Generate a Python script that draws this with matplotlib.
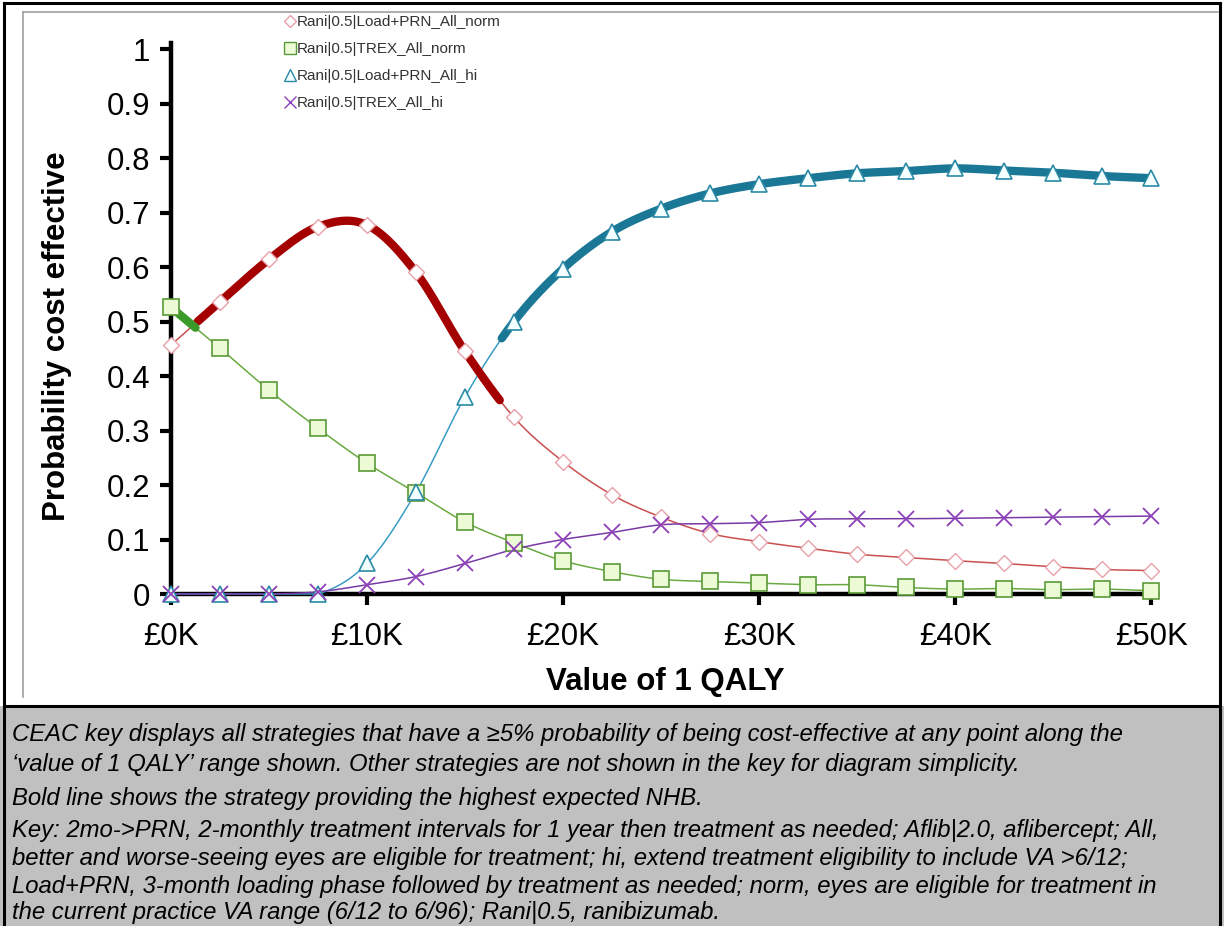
import numpy as np
import matplotlib
matplotlib.use("Agg")
import matplotlib.pyplot as plt
from matplotlib.lines import Line2D
from matplotlib.patches import Rectangle

plt.rcParams['font.family'] = ['Liberation Sans', 'DejaVu Sans']

# ---------------- data ----------------
wtp_k = [0, 2.5, 5, 7.5, 10, 12.5, 15, 17.5, 20, 22.5, 25, 27.5, 30,
         32.5, 35, 37.5, 40, 42.5, 45, 47.5, 50]
tick_vals = [0, 10, 20, 30, 40, 50]
tick_labels = ['£0K', '£10K', '£20K', '£30K', '£40K', '£50K']

series_names = ['Rani|0.5|Load+PRN_All_norm', 'Rani|0.5|TREX_All_norm',
                'Rani|0.5|Load+PRN_All_hi', 'Rani|0.5|TREX_All_hi']

load_prn_norm = [0.457, 0.536, 0.614, 0.674, 0.677, 0.590, 0.445, 0.324, 0.243,
                 0.182, 0.141, 0.111, 0.096, 0.084, 0.073, 0.067, 0.061, 0.056,
                 0.050, 0.045, 0.043]
trex_norm = [0.526, 0.451, 0.374, 0.304, 0.240, 0.186, 0.132, 0.094, 0.061,
             0.041, 0.027, 0.023, 0.020, 0.017, 0.017, 0.012, 0.009, 0.010,
             0.008, 0.009, 0.006]
load_prn_hi = [0.0, 0.0, 0.0, 0.0, 0.056, 0.187, 0.362, 0.500, 0.597, 0.665,
               0.707, 0.735, 0.752, 0.763, 0.772, 0.776, 0.781, 0.777, 0.773,
               0.767, 0.763]
trex_hi = [0.0, 0.0, 0.0, 0.004, 0.017, 0.032, 0.056, 0.082, 0.100, 0.113,
           0.127, 0.129, 0.131, 0.137, 0.138, 0.138, 0.139, 0.140, 0.141,
           0.142, 0.143]

# WTP ranges (in £K) where each strategy has the highest expected NHB (bold)
bold_ranges = {'Rani|0.5|TREX_All_norm': (0.0, 1.3),
               'Rani|0.5|Load+PRN_All_norm': (1.3, 16.8),
               'Rani|0.5|Load+PRN_All_hi': (16.8, 50.0)}

caption_lines = [
    "CEAC key displays all strategies that have a \u22655% probability of being cost-effective at any point along the",
    "\u2018value of 1 QALY\u2019 range shown. Other strategies are not shown in the key for diagram simplicity.",
    "Bold line shows the strategy providing the highest expected NHB.",
    "Key: 2mo->PRN, 2-monthly treatment intervals for 1 year then treatment as needed; Aflib|2.0, aflibercept; All,",
    "better and worse-seeing eyes are eligible for treatment; hi, extend treatment eligibility to include VA >6/12;",
    "Load+PRN, 3-month loading phase followed by treatment as needed; norm, eyes are eligible for treatment in",
    "the current practice VA range (6/12 to 6/96); Rani|0.5, ranibizumab.",
]


def smooth(x, y, n=24):
    """Catmull-Rom style smoothing (like Excel 'smoothed line')."""
    x = np.asarray(x, float)
    y = np.asarray(y, float)
    px = np.concatenate([[2 * x[0] - x[1]], x, [2 * x[-1] - x[-2]]])
    py = np.concatenate([[2 * y[0] - y[1]], y, [2 * y[-1] - y[-2]]])
    xs, ys = [], []
    t = np.linspace(0, 1, n, endpoint=False)
    for i in range(1, len(px) - 2):
        p0, p1, p2, p3 = py[i - 1], py[i], py[i + 1], py[i + 2]
        q0, q1, q2, q3 = px[i - 1], px[i], px[i + 1], px[i + 2]
        t2, t3 = t * t, t * t * t
        ys.append(0.5 * ((2 * p1) + (-p0 + p2) * t + (2 * p0 - 5 * p1 + 4 * p2 - p3) * t2 + (-p0 + 3 * p1 - 3 * p2 + p3) * t3))
        xs.append(0.5 * ((2 * q1) + (-q0 + q2) * t + (2 * q0 - 5 * q1 + 4 * q2 - q3) * t2 + (-q0 + 3 * q1 - 3 * q2 + q3) * t3))
    xs.append([x[-1]])
    ys.append([y[-1]])
    return np.concatenate(xs), np.clip(np.concatenate(ys), 0, None)


W, H = 1224, 926
fig = plt.figure(figsize=(W / 100, H / 100), dpi=100)


def fx(px):
    return px / W


def fy(py):
    return 1 - py / H

# ---------- frame / caption background ----------
fig.patches.append(Rectangle((0, 0), 1, fy(706), transform=fig.transFigure,
                             facecolor='#c0c0c0', edgecolor='none', zorder=0))
fig.add_artist(Line2D([fx(4), fx(1220)], [fy(706), fy(706)], color='black', lw=2.2, transform=fig.transFigure))
fig.add_artist(Line2D([fx(4), fx(4)], [0, fy(3)], color='black', lw=2.2, transform=fig.transFigure))
fig.add_artist(Line2D([fx(1220), fx(1220)], [0, fy(3)], color='black', lw=2.2, transform=fig.transFigure))
fig.add_artist(Line2D([fx(4), fx(1220)], [fy(3), fy(3)], color='black', lw=2.2, transform=fig.transFigure))
fig.add_artist(Line2D([fx(23), fx(23)], [fy(697), fy(12)], color='#a0a0a0', lw=1.2, transform=fig.transFigure))
fig.add_artist(Line2D([fx(23), fx(1218)], [fy(12), fy(12)], color='#a0a0a0', lw=1.2, transform=fig.transFigure))

# ---------- axes ----------
x0, x1 = 0.0, 50.3
y0, y1 = 0.0, 1.012
ax = fig.add_axes([fx(171), fy(594), (1157 - 171) / W, (594 - 42.5) / H])
ax.set_xlim(x0, x1)
ax.set_ylim(y0, y1)
ax.patch.set_alpha(0)
for s in ['top', 'right']:
    ax.spines[s].set_visible(False)
for s in ['left', 'bottom']:
    ax.spines[s].set_linewidth(3.2)
    ax.spines[s].set_color('black')
    ax.spines[s].set_zorder(1)

ax.set_xticks(tick_vals)
ax.set_xticklabels(tick_labels)
ax.set_yticks(np.round(np.arange(0, 1.01, 0.1), 1))
ax.set_yticklabels(['0'] + ['%.1f' % v for v in np.arange(0.1, 0.95, 0.1)] + ['1'])
ax.tick_params(axis='both', direction='out', length=8, width=3, colors='black',
               labelsize=22.5)
ax.tick_params(axis='y', pad=7)
ax.tick_params(axis='x', pad=12)

fig.text(fx(665), fy(682), 'Value of 1 QALY', fontsize=22.5, fontweight='bold',
         ha='center', va='center')
fig.text(fx(57), fy(336), 'Probability cost effective', fontsize=22.5, fontweight='bold',
         ha='center', va='center', rotation=90)

styles = {
    'Rani|0.5|Load+PRN_All_norm': dict(data=load_prn_norm, thin='#c8504f', bold='#a50000',
                                       marker='D', ms=8, mec='#e8a0a8', mfc='white', mew=1.0),
    'Rani|0.5|TREX_All_norm': dict(data=trex_norm, thin='#6aaa40', bold='#3a9a2a',
                                   marker='s', ms=11, mec='#5a9a38', mfc='#ecfad6', mew=1.2),
    'Rani|0.5|Load+PRN_All_hi': dict(data=load_prn_hi, thin='#3a9cc4', bold='#1a7896',
                                     marker='^', ms=11, mec='#2a8aa6', mfc='#f4ffff', mew=1.2),
    'Rani|0.5|TREX_All_hi': dict(data=trex_hi, thin='#7a3aa6', bold='#7a3aa6',
                                 marker='x', ms=11, mec='#8e40b8', mfc='none', mew=1.3),
}

handles = []
for name in series_names:
    st = styles[name]
    sx, sy = smooth(wtp_k, st['data'])
    ax.plot(sx, sy, color=st['thin'], lw=1.1, zorder=3, clip_on=False,
            solid_capstyle='round')
    if name in bold_ranges:
        a, b = bold_ranges[name]
        m = (sx >= a) & (sx <= b)
        ax.plot(sx[m], sy[m], color=st['bold'], lw=6, zorder=4, clip_on=False,
                solid_capstyle='round')
    ax.plot(wtp_k, st['data'], ls='none', marker=st['marker'], ms=st['ms'],
            mec=st['mec'], mfc=st['mfc'], mew=st['mew'], zorder=6, clip_on=False)
    handles.append(Line2D([], [], ls='none', marker=st['marker'], ms=st['ms'] * 0.75,
                          mec=st['mec'], mfc=st['mfc'] if st['mfc'] != 'none' else 'none',
                          mew=1.0, label=name))

leg = ax.legend(handles=handles, loc='upper left', bbox_to_anchor=(fx(285), fy(15)),
                bbox_transform=fig.transFigure, frameon=False, fontsize=11,
                handlelength=0.6, handletextpad=0.2, labelspacing=0.85,
                borderpad=0, borderaxespad=0)
for t in leg.get_texts():
    t.set_color('#333333')

# ---------- caption ----------
ys = [735, 764, 798, 831, 859, 886, 912]
for txt, yy in zip(caption_lines, ys):
    fig.text(fx(12), fy(yy), txt, fontsize=17.2, fontstyle='italic', va='center',
             ha='left', color='black')

fig.savefig('out.png', dpi=100)
